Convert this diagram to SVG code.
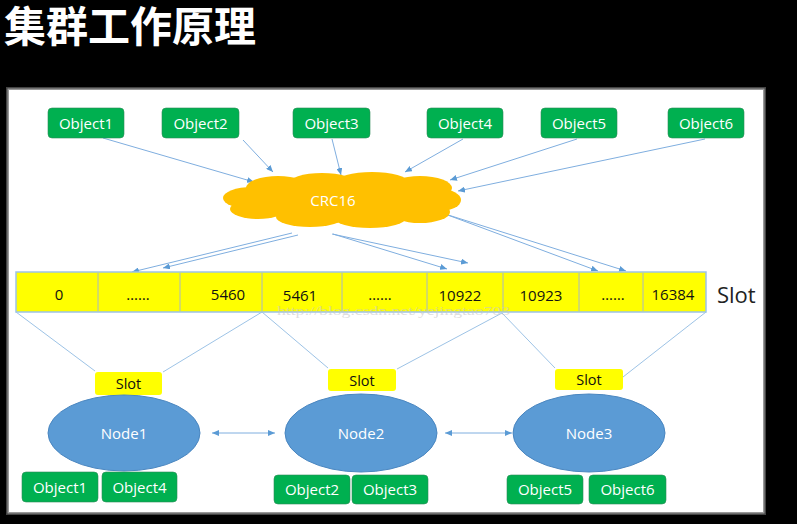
<svg xmlns="http://www.w3.org/2000/svg" width="797" height="524" viewBox="0 0 797 524">
<style>
.obj rect{fill:#00B050;stroke:#2E8B57;stroke-width:0.6}
.obj text,.node text,.cloud text{font-family:"Open Sans","Noto Sans",sans-serif;font-size:15px;fill:#fff;text-anchor:middle}
.cell{font-family:"Open Sans","Noto Sans",sans-serif;font-size:15px;fill:#111;text-anchor:middle}
.slotbox rect{fill:#FFFF00}
.slotbox text{font-family:"Open Sans","Noto Sans",sans-serif;font-size:14.5px;fill:#111;text-anchor:middle}
.node ellipse{fill:#5B9BD5;stroke:#4A86C0;stroke-width:1}
.arr{stroke:#7FAEDF;stroke-width:1;fill:none;marker-end:url(#ah)}
.dbl{stroke:#7FAEDF;stroke-width:1;fill:none;marker-end:url(#ah);marker-start:url(#ah)}
.sl{stroke:#9DC3E6;stroke-width:1;fill:none}
</style>
<defs>
<marker id="ah" markerUnits="userSpaceOnUse" markerWidth="8" markerHeight="6" refX="7" refY="3" orient="auto-start-reverse">
<path d="M0,0 L7,3 L0,6 z" fill="#5B9BD5"/>
</marker>
</defs>
<rect x="0" y="0" width="797" height="524" fill="#000"/>
<text x="4" y="42" font-family="'Noto Sans CJK SC','Noto Sans',sans-serif" font-size="42" font-weight="bold" fill="#fff">集群工作原理</text>
<rect x="6" y="87" width="760" height="428" fill="#444"/>
<rect x="7.5" y="88.5" width="757" height="425" fill="#999"/>
<rect x="9" y="90" width="754" height="422" fill="#fff"/>

<g id="connectors">
<line class="arr" x1="103" y1="138" x2="254" y2="182"/>
<line class="arr" x1="243" y1="140" x2="273" y2="172"/>
<line class="arr" x1="332" y1="139" x2="341" y2="175"/>
<line class="arr" x1="463" y1="139" x2="405" y2="172"/>
<line class="arr" x1="577" y1="139" x2="450" y2="180"/>
<line class="arr" x1="705" y1="139" x2="458" y2="191"/>
<line class="arr" x1="292" y1="233" x2="132" y2="272"/>
<line class="arr" x1="298" y1="235" x2="163" y2="268"/>
<line class="arr" x1="332" y1="234" x2="468" y2="263"/>
<line class="arr" x1="333" y1="234" x2="447" y2="269"/>
<line class="arr" x1="445" y1="214" x2="598" y2="271"/>
<line class="arr" x1="445" y1="214" x2="626" y2="271"/>
<line class="sl" x1="16" y1="312" x2="95" y2="371"/>
<line class="sl" x1="262" y1="312" x2="163" y2="372"/>
<line class="sl" x1="262" y1="312" x2="328" y2="368"/>
<line class="sl" x1="502" y1="313" x2="397" y2="369"/>
<line class="sl" x1="502" y1="313" x2="555" y2="368"/>
<line class="sl" x1="706" y1="312" x2="623" y2="377"/>
<line class="dbl" x1="212" y1="433" x2="275" y2="433"/>
<line class="dbl" x1="445" y1="433" x2="512" y2="433"/>
</g>

<g id="obj-top-1" class="obj"><rect x="48" y="108" width="76" height="30" rx="4"/><text x="86" y="128.5">Object1</text></g>
<g id="obj-top-2" class="obj"><rect x="162" y="108" width="77" height="30" rx="4"/><text x="200.5" y="128.5">Object2</text></g>
<g id="obj-top-3" class="obj"><rect x="293" y="108" width="77" height="30" rx="4"/><text x="331.5" y="128.5">Object3</text></g>
<g id="obj-top-4" class="obj"><rect x="427" y="108" width="76" height="30" rx="4"/><text x="465" y="128.5">Object4</text></g>
<g id="obj-top-5" class="obj"><rect x="541" y="108" width="76" height="30" rx="4"/><text x="579" y="128.5">Object5</text></g>
<g id="obj-top-6" class="obj"><rect x="668" y="108" width="76" height="30" rx="4"/><text x="706" y="128.5">Object6</text></g>

<g id="crc16" class="cloud" fill="#FFC000">
<ellipse cx="342" cy="200" rx="100" ry="22"/>
<ellipse cx="252" cy="198" rx="29" ry="11"/>
<ellipse cx="258" cy="209" rx="28" ry="10"/>
<ellipse cx="278" cy="188" rx="32" ry="12"/>
<ellipse cx="322" cy="184" rx="34" ry="11"/>
<ellipse cx="372" cy="182" rx="36" ry="10"/>
<ellipse cx="420" cy="188" rx="32" ry="12"/>
<ellipse cx="440" cy="200" rx="21" ry="11"/>
<ellipse cx="420" cy="212" rx="30" ry="11"/>
<ellipse cx="370" cy="218" rx="36" ry="10"/>
<ellipse cx="310" cy="217" rx="34" ry="10"/>
<text x="333" y="205.5">CRC16</text>
</g>

<g id="slot-bar">
<rect x="16" y="272" width="690" height="40" fill="#FFFF00" stroke="#9DC3E6" stroke-width="1.5"/>
<g stroke="#A8B8C4" stroke-width="1">
<line x1="98" y1="273" x2="98" y2="311"/><line x1="180" y1="273" x2="180" y2="311"/>
<line x1="262" y1="273" x2="262" y2="311"/><line x1="342" y1="273" x2="342" y2="311"/>
<line x1="427" y1="273" x2="427" y2="311"/><line x1="503" y1="273" x2="503" y2="311"/>
<line x1="579" y1="273" x2="579" y2="311"/><line x1="643" y1="273" x2="643" y2="311"/>
</g>
<text class="cell" x="59" y="300">0</text>
<text class="cell" x="138" y="300">……</text>
<text class="cell" x="228" y="300">5460</text>
<text class="cell" x="300" y="301">5461</text>
<text class="cell" x="380" y="300">……</text>
<text class="cell" x="460" y="301">10922</text>
<text class="cell" x="541" y="301">10923</text>
<text class="cell" x="613" y="300">……</text>
<text class="cell" x="673" y="300">16384</text>
<text x="717" y="303" font-family="'Open Sans','Noto Sans',sans-serif" font-size="22" fill="#222">Slot</text>
</g>
<text x="277" y="315" font-family="'Liberation Serif',serif" font-size="13" fill="#c8c8c8" fill-opacity="0.6" textLength="233" lengthAdjust="spacingAndGlyphs">http://blog.csdn.net/yejingtao703</text>

<g id="slot-1" class="slotbox"><rect x="95" y="372" width="67" height="23" rx="3"/><text x="128.5" y="389">Slot</text></g>
<g id="slot-2" class="slotbox"><rect x="328" y="369" width="68" height="22" rx="3"/><text x="362" y="385.5">Slot</text></g>
<g id="slot-3" class="slotbox"><rect x="555" y="369" width="68" height="21" rx="3"/><text x="589" y="385">Slot</text></g>

<g id="node1" class="node"><ellipse cx="124" cy="433" rx="76" ry="38"/><text x="124" y="438.5">Node1</text></g>
<g id="node2" class="node"><ellipse cx="361" cy="433" rx="76" ry="39"/><text x="361" y="438.5">Node2</text></g>
<g id="node3" class="node"><ellipse cx="589" cy="433" rx="76" ry="39"/><text x="589" y="438.5">Node3</text></g>

<g id="obj-b-1" class="obj"><rect x="22" y="472" width="76" height="30" rx="4"/><text x="60" y="492.5">Object1</text></g>
<g id="obj-b-4" class="obj"><rect x="102" y="472" width="75" height="30" rx="4"/><text x="139.5" y="492.5">Object4</text></g>
<g id="obj-b-2" class="obj"><rect x="274" y="475" width="76" height="29" rx="4"/><text x="312" y="495">Object2</text></g>
<g id="obj-b-3" class="obj"><rect x="352" y="475" width="76" height="29" rx="4"/><text x="390" y="495">Object3</text></g>
<g id="obj-b-5" class="obj"><rect x="507" y="475" width="76" height="29" rx="4"/><text x="545" y="495">Object5</text></g>
<g id="obj-b-6" class="obj"><rect x="589" y="475" width="77" height="29" rx="4"/><text x="627.5" y="495">Object6</text></g>
</svg>
